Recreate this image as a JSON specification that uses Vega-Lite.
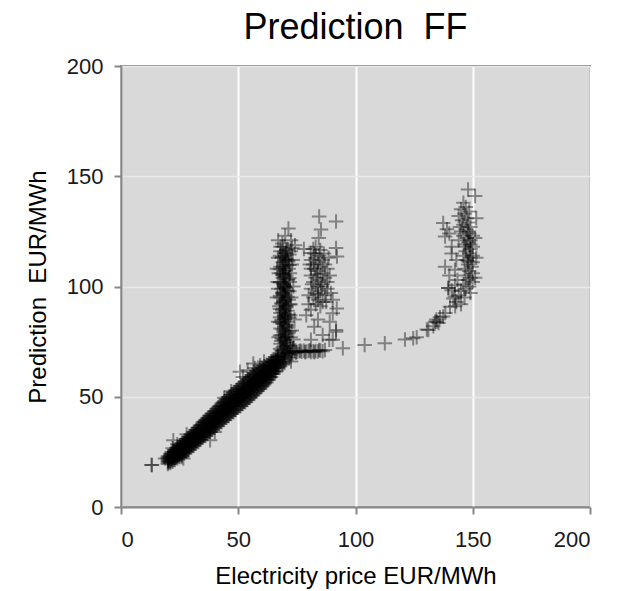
{
  "$schema": "https://vega.github.io/schema/vega-lite/v6.json",
  "width": 469,
  "height": 441,
  "autosize": {"type": "none"},
  "padding": {"left": 121, "top": 66, "right": 38, "bottom": 84},
  "background": "#ffffff",
  "title": {
    "text": "Prediction\u00a0 FF",
    "font": "Liberation Sans",
    "fontSize": 36,
    "fontWeight": "normal",
    "color": "#000000",
    "anchor": "middle",
    "frame": "group",
    "offset": 8
  },
  "config": {
    "view": {"fill": "#d9d9d9", "stroke": "#878787", "strokeWidth": 2},
    "axis": {
      "domainColor": "#878787",
      "domainWidth": 2,
      "tickColor": "#878787",
      "tickWidth": 2,
      "tickSize": 7,
      "labelFont": "Liberation Sans",
      "labelFontSize": 22,
      "labelColor": "#1a1a1a",
      "titleFont": "Liberation Sans",
      "titleFontSize": 24,
      "titleFontWeight": "normal",
      "titleColor": "#000000"
    },
    "axisX": {"gridColor": "#ffffff", "gridWidth": 2, "gridOpacity": 1},
    "axisY": {"gridColor": "#e9e9e9", "gridWidth": 1.5, "gridOpacity": 1}
  },
  "data": {
    "values": [
      {"price": 20, "pred": 19.5}, {"price": 20, "pred": 20.2}, {"price": 20, "pred": 20.9}, {"price": 20, "pred": 21.6}, {"price": 20, "pred": 22.3}, {"price": 20, "pred": 23},
      {"price": 21, "pred": 20}, {"price": 21, "pred": 20.8}, {"price": 21, "pred": 21.6}, {"price": 21, "pred": 22.4}, {"price": 21, "pred": 23.2}, {"price": 21, "pred": 24},
      {"price": 22, "pred": 20.5}, {"price": 22, "pred": 21.4}, {"price": 22, "pred": 22.3}, {"price": 22, "pred": 23.2}, {"price": 22, "pred": 24.1}, {"price": 22, "pred": 25},
      {"price": 23, "pred": 21.3}, {"price": 23, "pred": 22.2}, {"price": 23, "pred": 23.2}, {"price": 23, "pred": 24.1}, {"price": 23, "pred": 25.1}, {"price": 23, "pred": 26},
      {"price": 24, "pred": 22}, {"price": 24, "pred": 23}, {"price": 24, "pred": 24}, {"price": 24, "pred": 25}, {"price": 24, "pred": 26}, {"price": 24, "pred": 27},
      {"price": 25, "pred": 22.7}, {"price": 25, "pred": 23.8}, {"price": 25, "pred": 24.8}, {"price": 25, "pred": 25.9}, {"price": 25, "pred": 26.9}, {"price": 25, "pred": 28},
      {"price": 26, "pred": 23.5}, {"price": 26, "pred": 24.6}, {"price": 26, "pred": 25.7}, {"price": 26, "pred": 26.8}, {"price": 26, "pred": 27.9}, {"price": 26, "pred": 29},
      {"price": 27, "pred": 24.3}, {"price": 27, "pred": 25.4}, {"price": 27, "pred": 26.6}, {"price": 27, "pred": 27.7}, {"price": 27, "pred": 28.9}, {"price": 27, "pred": 30},
      {"price": 28, "pred": 25}, {"price": 28, "pred": 26.2}, {"price": 28, "pred": 27.4}, {"price": 28, "pred": 28.6}, {"price": 28, "pred": 29.8}, {"price": 28, "pred": 31},
      {"price": 29, "pred": 26}, {"price": 29, "pred": 27.2}, {"price": 29, "pred": 28.4}, {"price": 29, "pred": 29.6}, {"price": 29, "pred": 30.8}, {"price": 29, "pred": 32},
      {"price": 30, "pred": 27}, {"price": 30, "pred": 28.2}, {"price": 30, "pred": 29.4}, {"price": 30, "pred": 30.6}, {"price": 30, "pred": 31.8}, {"price": 30, "pred": 33},
      {"price": 31, "pred": 27.8}, {"price": 31, "pred": 29}, {"price": 31, "pred": 30.3}, {"price": 31, "pred": 31.5}, {"price": 31, "pred": 32.8}, {"price": 31, "pred": 34},
      {"price": 32, "pred": 28.7}, {"price": 32, "pred": 30}, {"price": 32, "pred": 31.2}, {"price": 32, "pred": 32.5}, {"price": 32, "pred": 33.7}, {"price": 32, "pred": 35},
      {"price": 33, "pred": 29.5}, {"price": 33, "pred": 30.8}, {"price": 33, "pred": 32.1}, {"price": 33, "pred": 33.4}, {"price": 33, "pred": 34.7}, {"price": 33, "pred": 36},
      {"price": 34, "pred": 30.5}, {"price": 34, "pred": 31.8}, {"price": 34, "pred": 33.2}, {"price": 34, "pred": 34.5}, {"price": 34, "pred": 35.9}, {"price": 34, "pred": 37.2},
      {"price": 35, "pred": 31.5}, {"price": 35, "pred": 32.9}, {"price": 35, "pred": 34.3}, {"price": 35, "pred": 35.7}, {"price": 35, "pred": 37.1}, {"price": 35, "pred": 38.5},
      {"price": 36, "pred": 32.3}, {"price": 36, "pred": 33.7}, {"price": 36, "pred": 35.2}, {"price": 36, "pred": 36.6}, {"price": 36, "pred": 38.1}, {"price": 36, "pred": 39.5},
      {"price": 37, "pred": 33.2}, {"price": 37, "pred": 34.7}, {"price": 37, "pred": 36.1}, {"price": 37, "pred": 37.6}, {"price": 37, "pred": 39}, {"price": 37, "pred": 40.5},
      {"price": 38, "pred": 34}, {"price": 38, "pred": 35.5}, {"price": 38, "pred": 37}, {"price": 38, "pred": 38.5}, {"price": 38, "pred": 40}, {"price": 38, "pred": 41.5},
      {"price": 39, "pred": 35}, {"price": 39, "pred": 36.5}, {"price": 39, "pred": 38}, {"price": 39, "pred": 39.5}, {"price": 39, "pred": 41}, {"price": 39, "pred": 42.5},
      {"price": 40, "pred": 36}, {"price": 40, "pred": 37.5}, {"price": 40, "pred": 39}, {"price": 40, "pred": 40.5}, {"price": 40, "pred": 42}, {"price": 40, "pred": 43.5},
      {"price": 41, "pred": 36.8}, {"price": 41, "pred": 38.4}, {"price": 41, "pred": 40}, {"price": 41, "pred": 41.5}, {"price": 41, "pred": 43.1}, {"price": 41, "pred": 44.7},
      {"price": 42, "pred": 37.7}, {"price": 42, "pred": 39.3}, {"price": 42, "pred": 40.9}, {"price": 42, "pred": 42.6}, {"price": 42, "pred": 44.2}, {"price": 42, "pred": 45.8},
      {"price": 43, "pred": 38.5}, {"price": 43, "pred": 40.2}, {"price": 43, "pred": 41.9}, {"price": 43, "pred": 43.6}, {"price": 43, "pred": 45.3}, {"price": 43, "pred": 47},
      {"price": 44, "pred": 39.5}, {"price": 44, "pred": 41.2}, {"price": 44, "pred": 42.8}, {"price": 44, "pred": 44.5}, {"price": 44, "pred": 46.2}, {"price": 44, "pred": 48},
      {"price": 45, "pred": 40.5}, {"price": 45, "pred": 42.2}, {"price": 45, "pred": 43.9}, {"price": 45, "pred": 45.6}, {"price": 45, "pred": 47.3}, {"price": 45, "pred": 49},
      {"price": 46, "pred": 41.3}, {"price": 46, "pred": 43}, {"price": 46, "pred": 44.8}, {"price": 46, "pred": 46.5}, {"price": 46, "pred": 48.3}, {"price": 46, "pred": 50},
      {"price": 47, "pred": 42.2}, {"price": 47, "pred": 44}, {"price": 47, "pred": 45.7}, {"price": 47, "pred": 47.5}, {"price": 47, "pred": 49.2}, {"price": 47, "pred": 51},
      {"price": 48, "pred": 43}, {"price": 48, "pred": 44.8}, {"price": 48, "pred": 46.6}, {"price": 48, "pred": 48.4}, {"price": 48, "pred": 50.2}, {"price": 48, "pred": 52},
      {"price": 49, "pred": 44}, {"price": 49, "pred": 45.8}, {"price": 49, "pred": 47.6}, {"price": 49, "pred": 49.4}, {"price": 49, "pred": 51.2}, {"price": 49, "pred": 53},
      {"price": 50, "pred": 45}, {"price": 50, "pred": 46.8}, {"price": 50, "pred": 48.6}, {"price": 50, "pred": 50.4}, {"price": 50, "pred": 52.2}, {"price": 50, "pred": 54},
      {"price": 51, "pred": 45.8}, {"price": 51, "pred": 47.6}, {"price": 51, "pred": 49.5}, {"price": 51, "pred": 51.3}, {"price": 51, "pred": 53.2}, {"price": 51, "pred": 55},
      {"price": 52, "pred": 46.7}, {"price": 52, "pred": 48.6}, {"price": 52, "pred": 50.4}, {"price": 52, "pred": 52.3}, {"price": 52, "pred": 54.1}, {"price": 52, "pred": 56},
      {"price": 53, "pred": 47.5}, {"price": 53, "pred": 49.4}, {"price": 53, "pred": 51.3}, {"price": 53, "pred": 53.2}, {"price": 53, "pred": 55.1}, {"price": 53, "pred": 57},
      {"price": 54, "pred": 48.5}, {"price": 54, "pred": 50.4}, {"price": 54, "pred": 52.3}, {"price": 54, "pred": 54.2}, {"price": 54, "pred": 56.1}, {"price": 54, "pred": 58},
      {"price": 55, "pred": 49.5}, {"price": 55, "pred": 51.4}, {"price": 55, "pred": 53.3}, {"price": 55, "pred": 55.2}, {"price": 55, "pred": 57.1}, {"price": 55, "pred": 59},
      {"price": 56, "pred": 50.5}, {"price": 56, "pred": 52.4}, {"price": 56, "pred": 54.2}, {"price": 56, "pred": 56.1}, {"price": 56, "pred": 57.9}, {"price": 56, "pred": 59.8},
      {"price": 57, "pred": 51.5}, {"price": 57, "pred": 53.3}, {"price": 57, "pred": 55.2}, {"price": 57, "pred": 57}, {"price": 57, "pred": 58.9}, {"price": 57, "pred": 60.7},
      {"price": 58, "pred": 52.5}, {"price": 58, "pred": 54.3}, {"price": 58, "pred": 56.1}, {"price": 58, "pred": 57.9}, {"price": 58, "pred": 59.7}, {"price": 58, "pred": 61.5},
      {"price": 59, "pred": 53.5}, {"price": 59, "pred": 55.2}, {"price": 59, "pred": 57}, {"price": 59, "pred": 58.7}, {"price": 59, "pred": 60.5}, {"price": 59, "pred": 62.2},
      {"price": 60, "pred": 54.5}, {"price": 60, "pred": 56.2}, {"price": 60, "pred": 57.9}, {"price": 60, "pred": 59.6}, {"price": 60, "pred": 61.3}, {"price": 60, "pred": 63},
      {"price": 61, "pred": 55.5}, {"price": 61, "pred": 57.2}, {"price": 61, "pred": 58.8}, {"price": 61, "pred": 60.5}, {"price": 61, "pred": 62.1}, {"price": 61, "pred": 63.8},
      {"price": 62, "pred": 56.5}, {"price": 62, "pred": 58.1}, {"price": 62, "pred": 59.7}, {"price": 62, "pred": 61.3}, {"price": 62, "pred": 62.9}, {"price": 62, "pred": 64.5},
      {"price": 63, "pred": 57.7}, {"price": 63, "pred": 59.2}, {"price": 63, "pred": 60.7}, {"price": 63, "pred": 62.2}, {"price": 63, "pred": 63.7}, {"price": 63, "pred": 65.2},
      {"price": 64, "pred": 59}, {"price": 64, "pred": 60.4}, {"price": 64, "pred": 61.8}, {"price": 64, "pred": 63.2}, {"price": 64, "pred": 64.6}, {"price": 64, "pred": 66},
      {"price": 65, "pred": 60.3}, {"price": 65, "pred": 61.6}, {"price": 65, "pred": 63}, {"price": 65, "pred": 64.3}, {"price": 65, "pred": 65.7}, {"price": 65, "pred": 67},
      {"price": 66, "pred": 61.5}, {"price": 66, "pred": 62.8}, {"price": 66, "pred": 64.1}, {"price": 66, "pred": 65.4}, {"price": 66, "pred": 66.7}, {"price": 66, "pred": 68},
      {"price": 67, "pred": 63.5}, {"price": 67, "pred": 64.6}, {"price": 67, "pred": 65.7}, {"price": 67, "pred": 66.8}, {"price": 67, "pred": 67.9}, {"price": 67, "pred": 69},

      {"price": 20.5, "pred": 20.4}, {"price": 20.5, "pred": 21.2}, {"price": 20.5, "pred": 22.1}, {"price": 20.5, "pred": 22.9},
      {"price": 21.5, "pred": 20.9}, {"price": 21.5, "pred": 21.9}, {"price": 21.5, "pred": 22.9}, {"price": 21.5, "pred": 23.9},
      {"price": 22.5, "pred": 21.5}, {"price": 22.5, "pred": 22.6}, {"price": 22.5, "pred": 23.8}, {"price": 22.5, "pred": 24.9},
      {"price": 23.5, "pred": 22.3}, {"price": 23.5, "pred": 23.5}, {"price": 23.5, "pred": 24.7}, {"price": 23.5, "pred": 25.9},
      {"price": 24.5, "pred": 23}, {"price": 24.5, "pred": 24.3}, {"price": 24.5, "pred": 25.6}, {"price": 24.5, "pred": 26.9},
      {"price": 25.5, "pred": 23.7}, {"price": 25.5, "pred": 25.1}, {"price": 25.5, "pred": 26.5}, {"price": 25.5, "pred": 27.9},
      {"price": 26.5, "pred": 24.5}, {"price": 26.5, "pred": 26}, {"price": 26.5, "pred": 27.4}, {"price": 26.5, "pred": 28.9},
      {"price": 27.5, "pred": 25.3}, {"price": 27.5, "pred": 26.8}, {"price": 27.5, "pred": 28.4}, {"price": 27.5, "pred": 29.9},
      {"price": 28.5, "pred": 26.1}, {"price": 28.5, "pred": 27.7}, {"price": 28.5, "pred": 29.3}, {"price": 28.5, "pred": 30.9},
      {"price": 29.5, "pred": 27.1}, {"price": 29.5, "pred": 28.7}, {"price": 29.5, "pred": 30.3}, {"price": 29.5, "pred": 31.9},
      {"price": 30.5, "pred": 28}, {"price": 30.5, "pred": 29.6}, {"price": 30.5, "pred": 31.3}, {"price": 30.5, "pred": 32.9},
      {"price": 31.5, "pred": 28.9}, {"price": 31.5, "pred": 30.6}, {"price": 31.5, "pred": 32.2}, {"price": 31.5, "pred": 33.9},
      {"price": 32.5, "pred": 29.7}, {"price": 32.5, "pred": 31.4}, {"price": 32.5, "pred": 33.2}, {"price": 32.5, "pred": 34.9},
      {"price": 33.5, "pred": 30.6}, {"price": 33.5, "pred": 32.4}, {"price": 33.5, "pred": 34.2}, {"price": 33.5, "pred": 36},
      {"price": 34.5, "pred": 31.6}, {"price": 34.5, "pred": 33.5}, {"price": 34.5, "pred": 35.4}, {"price": 34.5, "pred": 37.3},
      {"price": 35.5, "pred": 32.5}, {"price": 35.5, "pred": 34.5}, {"price": 35.5, "pred": 36.4}, {"price": 35.5, "pred": 38.4},
      {"price": 36.5, "pred": 33.4}, {"price": 36.5, "pred": 35.4}, {"price": 36.5, "pred": 37.4}, {"price": 36.5, "pred": 39.4},
      {"price": 37.5, "pred": 34.2}, {"price": 37.5, "pred": 36.3}, {"price": 37.5, "pred": 38.3}, {"price": 37.5, "pred": 40.4},
      {"price": 38.5, "pred": 35.1}, {"price": 38.5, "pred": 37.2}, {"price": 38.5, "pred": 39.3}, {"price": 38.5, "pred": 41.4},
      {"price": 39.5, "pred": 36.1}, {"price": 39.5, "pred": 38.2}, {"price": 39.5, "pred": 40.3}, {"price": 39.5, "pred": 42.4},
      {"price": 40.5, "pred": 37}, {"price": 40.5, "pred": 39.2}, {"price": 40.5, "pred": 41.3}, {"price": 40.5, "pred": 43.5},
      {"price": 41.5, "pred": 37.9}, {"price": 41.5, "pred": 40.2}, {"price": 41.5, "pred": 42.4}, {"price": 41.5, "pred": 44.7},
      {"price": 42.5, "pred": 38.7}, {"price": 42.5, "pred": 41.1}, {"price": 42.5, "pred": 43.4}, {"price": 42.5, "pred": 45.8},
      {"price": 43.5, "pred": 39.6}, {"price": 43.5, "pred": 42}, {"price": 43.5, "pred": 44.5}, {"price": 43.5, "pred": 46.9},
      {"price": 44.5, "pred": 40.6}, {"price": 44.5, "pred": 43}, {"price": 44.5, "pred": 45.5}, {"price": 44.5, "pred": 47.9},
      {"price": 45.5, "pred": 41.5}, {"price": 45.5, "pred": 44}, {"price": 45.5, "pred": 46.4}, {"price": 45.5, "pred": 48.9},
      {"price": 46.5, "pred": 42.4}, {"price": 46.5, "pred": 44.9}, {"price": 46.5, "pred": 47.4}, {"price": 46.5, "pred": 49.9},
      {"price": 47.5, "pred": 43.2}, {"price": 47.5, "pred": 45.8}, {"price": 47.5, "pred": 48.3}, {"price": 47.5, "pred": 50.9},
      {"price": 48.5, "pred": 44.1}, {"price": 48.5, "pred": 46.7}, {"price": 48.5, "pred": 49.3}, {"price": 48.5, "pred": 51.9},
      {"price": 49.5, "pred": 45.1}, {"price": 49.5, "pred": 47.7}, {"price": 49.5, "pred": 50.3}, {"price": 49.5, "pred": 52.9},
      {"price": 50.5, "pred": 46}, {"price": 50.5, "pred": 48.6}, {"price": 50.5, "pred": 51.3}, {"price": 50.5, "pred": 53.9},
      {"price": 51.5, "pred": 46.9}, {"price": 51.5, "pred": 49.6}, {"price": 51.5, "pred": 52.2}, {"price": 51.5, "pred": 54.9},
      {"price": 52.5, "pred": 47.7}, {"price": 52.5, "pred": 50.4}, {"price": 52.5, "pred": 53.2}, {"price": 52.5, "pred": 55.9},
      {"price": 53.5, "pred": 48.6}, {"price": 53.5, "pred": 51.4}, {"price": 53.5, "pred": 54.1}, {"price": 53.5, "pred": 56.9},
      {"price": 54.5, "pred": 49.6}, {"price": 54.5, "pred": 52.4}, {"price": 54.5, "pred": 55.1}, {"price": 54.5, "pred": 57.9},
      {"price": 55.5, "pred": 50.6}, {"price": 55.5, "pred": 53.3}, {"price": 55.5, "pred": 56.1}, {"price": 55.5, "pred": 58.8},
      {"price": 56.5, "pred": 51.6}, {"price": 56.5, "pred": 54.3}, {"price": 56.5, "pred": 57}, {"price": 56.5, "pred": 59.7},
      {"price": 57.5, "pred": 52.6}, {"price": 57.5, "pred": 55.2}, {"price": 57.5, "pred": 57.9}, {"price": 57.5, "pred": 60.5},
      {"price": 58.5, "pred": 53.6}, {"price": 58.5, "pred": 56.2}, {"price": 58.5, "pred": 58.7}, {"price": 58.5, "pred": 61.3},
      {"price": 59.5, "pred": 54.6}, {"price": 59.5, "pred": 57.1}, {"price": 59.5, "pred": 59.5}, {"price": 59.5, "pred": 62},
      {"price": 60.5, "pred": 55.6}, {"price": 60.5, "pred": 58}, {"price": 60.5, "pred": 60.4}, {"price": 60.5, "pred": 62.8},
      {"price": 61.5, "pred": 56.6}, {"price": 61.5, "pred": 58.9}, {"price": 61.5, "pred": 61.3}, {"price": 61.5, "pred": 63.6},
      {"price": 62.5, "pred": 57.7}, {"price": 62.5, "pred": 59.9}, {"price": 62.5, "pred": 62.1}, {"price": 62.5, "pred": 64.3},
      {"price": 63.5, "pred": 59}, {"price": 63.5, "pred": 61}, {"price": 63.5, "pred": 63}, {"price": 63.5, "pred": 65},
      {"price": 64.5, "pred": 60.3}, {"price": 64.5, "pred": 62.2}, {"price": 64.5, "pred": 64}, {"price": 64.5, "pred": 65.9},
      {"price": 65.5, "pred": 61.5}, {"price": 65.5, "pred": 63.3}, {"price": 65.5, "pred": 65.1}, {"price": 65.5, "pred": 66.9},
      {"price": 66.5, "pred": 63.1}, {"price": 66.5, "pred": 64.7}, {"price": 66.5, "pred": 66.3}, {"price": 66.5, "pred": 67.9},

      {"price": 13, "pred": 19}, {"price": 13.2, "pred": 19.1}, {"price": 18.8, "pred": 22}, {"price": 22.3, "pred": 30.3},
      {"price": 22, "pred": 26.6}, {"price": 26.6, "pred": 22}, {"price": 38, "pred": 30.3}, {"price": 40, "pred": 34},
      {"price": 50.7, "pred": 61.3}, {"price": 56.4, "pred": 65.1}, {"price": 59.3, "pred": 64.3}, {"price": 54, "pred": 62},
      {"price": 52, "pred": 59}, {"price": 24, "pred": 28.5}, {"price": 28, "pred": 33}, {"price": 44, "pred": 49.5},
      {"price": 47, "pred": 52.5}, {"price": 61, "pred": 66}, {"price": 57, "pred": 63}, {"price": 25.9, "pred": 22.7},

      {"price": 67.5, "pred": 64}, {"price": 68.5, "pred": 65}, {"price": 69.5, "pred": 66}, {"price": 68, "pred": 67},
      {"price": 70, "pred": 68}, {"price": 69, "pred": 69}, {"price": 71, "pred": 70}, {"price": 68.5, "pred": 71},
      {"price": 70.5, "pred": 72}, {"price": 69.5, "pred": 73}, {"price": 68, "pred": 74}, {"price": 71, "pred": 75},
      {"price": 69, "pred": 76}, {"price": 70, "pred": 77}, {"price": 68.5, "pred": 78}, {"price": 71.5, "pred": 79},
      {"price": 69.5, "pred": 80}, {"price": 68, "pred": 81}, {"price": 70.5, "pred": 82}, {"price": 69, "pred": 83},
      {"price": 71, "pred": 84}, {"price": 68.5, "pred": 85}, {"price": 70, "pred": 86}, {"price": 69.5, "pred": 87},
      {"price": 68, "pred": 88}, {"price": 71, "pred": 89}, {"price": 69, "pred": 90}, {"price": 70.5, "pred": 91},
      {"price": 68.5, "pred": 92}, {"price": 69.5, "pred": 93}, {"price": 71.5, "pred": 94}, {"price": 68, "pred": 95},
      {"price": 70, "pred": 96}, {"price": 69, "pred": 97}, {"price": 71, "pred": 98}, {"price": 68.5, "pred": 99},
      {"price": 70, "pred": 100}, {"price": 69.5, "pred": 101}, {"price": 68, "pred": 102}, {"price": 71, "pred": 103},
      {"price": 69, "pred": 104}, {"price": 70.5, "pred": 105}, {"price": 68.5, "pred": 106}, {"price": 69.5, "pred": 107},
      {"price": 71.5, "pred": 108}, {"price": 68, "pred": 109}, {"price": 70, "pred": 110}, {"price": 69, "pred": 111},
      {"price": 71, "pred": 112}, {"price": 68.5, "pred": 113}, {"price": 70, "pred": 114}, {"price": 69.5, "pred": 115},
      {"price": 68, "pred": 116}, {"price": 71, "pred": 117}, {"price": 69, "pred": 118},
      {"price": 69, "pred": 64.5}, {"price": 70.5, "pred": 66.5}, {"price": 68.5, "pred": 68.5}, {"price": 70, "pred": 70.5},
      {"price": 69, "pred": 72.5}, {"price": 70.5, "pred": 74.5}, {"price": 68.5, "pred": 76.5}, {"price": 70, "pred": 78.5},
      {"price": 69, "pred": 80.5}, {"price": 70.5, "pred": 82.5}, {"price": 68.5, "pred": 84.5}, {"price": 70, "pred": 86.5},
      {"price": 69, "pred": 88.5}, {"price": 70.5, "pred": 90.5}, {"price": 68.5, "pred": 92.5}, {"price": 70, "pred": 94.5},
      {"price": 69, "pred": 96.5}, {"price": 70.5, "pred": 98.5}, {"price": 69.5, "pred": 100.5}, {"price": 70, "pred": 104.5},
      {"price": 69, "pred": 108.5}, {"price": 70.5, "pred": 112.5},
      {"price": 72.5, "pred": 66}, {"price": 67, "pred": 68}, {"price": 72, "pred": 73}, {"price": 67.2, "pred": 77},
      {"price": 72.8, "pred": 80}, {"price": 67, "pred": 84}, {"price": 72.2, "pred": 87}, {"price": 67.5, "pred": 91},
      {"price": 72.6, "pred": 95}, {"price": 67, "pred": 99}, {"price": 72, "pred": 102}, {"price": 67.3, "pred": 106},
      {"price": 72.8, "pred": 110}, {"price": 67, "pred": 113}, {"price": 72.4, "pred": 116}, {"price": 73, "pred": 70},
      {"price": 73.5, "pred": 76}, {"price": 74, "pred": 85}, {"price": 66.5, "pred": 95}, {"price": 73.5, "pred": 100},
      {"price": 66.5, "pred": 108},
      {"price": 69.8, "pred": 65.3}, {"price": 68.8, "pred": 67.3}, {"price": 71.5, "pred": 69.3}, {"price": 69.3, "pred": 71.3},
      {"price": 70.8, "pred": 73.3}, {"price": 68.3, "pred": 75.3}, {"price": 70.3, "pred": 77.3}, {"price": 69.3, "pred": 79.3},
      {"price": 71.3, "pred": 81.3}, {"price": 68.8, "pred": 83.3}, {"price": 69.8, "pred": 85.3}, {"price": 71.3, "pred": 87.3},
      {"price": 68.8, "pred": 89.3}, {"price": 70.3, "pred": 91.3}, {"price": 69.3, "pred": 93.3}, {"price": 71, "pred": 95.3},
      {"price": 68.8, "pred": 97.3}, {"price": 70.3, "pred": 99.3}, {"price": 69.3, "pred": 101.3}, {"price": 71.3, "pred": 103.3},
      {"price": 68.8, "pred": 105.3}, {"price": 70.3, "pred": 107.3}, {"price": 69.3, "pred": 109.3}, {"price": 71.3, "pred": 111.3},
      {"price": 68.8, "pred": 113.3}, {"price": 70.3, "pred": 115.3}, {"price": 72, "pred": 106}, {"price": 72.3, "pred": 92},
      {"price": 67.8, "pred": 86}, {"price": 72.3, "pred": 77},
      {"price": 67.8, "pred": 65.8}, {"price": 71.8, "pred": 67.8}, {"price": 69.8, "pred": 69.8}, {"price": 67.8, "pred": 71.8},
      {"price": 71.8, "pred": 73.8}, {"price": 69.8, "pred": 75.8}, {"price": 67.8, "pred": 77.8}, {"price": 71.8, "pred": 79.8},
      {"price": 69.8, "pred": 81.8}, {"price": 67.8, "pred": 83.8}, {"price": 71.8, "pred": 85.8}, {"price": 69.8, "pred": 87.8},
      {"price": 67.8, "pred": 89.8}, {"price": 71.8, "pred": 91.8}, {"price": 69.8, "pred": 93.8}, {"price": 67.8, "pred": 95.8},
      {"price": 71.8, "pred": 97.8}, {"price": 69.8, "pred": 99.8}, {"price": 67.8, "pred": 101.8}, {"price": 71.8, "pred": 103.8},
      {"price": 69.8, "pred": 105.8}, {"price": 67.8, "pred": 107.8}, {"price": 71.8, "pred": 109.8}, {"price": 69.8, "pred": 111.8},
      {"price": 67.8, "pred": 114}, {"price": 71.8, "pred": 114.5}, {"price": 70.5, "pred": 116.5}, {"price": 68.8, "pred": 119.5},
      {"price": 73.2, "pred": 112}, {"price": 66.8, "pred": 102},

      {"price": 71.4, "pred": 126.3}, {"price": 68, "pred": 118}, {"price": 74.2, "pred": 118.7}, {"price": 67, "pred": 121},
      {"price": 70, "pred": 123}, {"price": 73, "pred": 117.5}, {"price": 72.5, "pred": 121},

      {"price": 72, "pred": 70}, {"price": 73, "pred": 70.5}, {"price": 74, "pred": 70.8}, {"price": 75, "pred": 70.3},
      {"price": 76, "pred": 70.6}, {"price": 77, "pred": 70.4}, {"price": 78, "pred": 70.9}, {"price": 79, "pred": 70.5},
      {"price": 80, "pred": 70.7}, {"price": 81, "pred": 70.3}, {"price": 82, "pred": 70.6}, {"price": 83, "pred": 70.8},
      {"price": 84, "pred": 70.5}, {"price": 85, "pred": 71}, {"price": 86, "pred": 70.6}, {"price": 87, "pred": 71.2},
      {"price": 76.5, "pred": 71}, {"price": 78.5, "pred": 70.2}, {"price": 80.5, "pred": 71.1}, {"price": 82.5, "pred": 70.2},
      {"price": 84.5, "pred": 71.2}, {"price": 74.5, "pred": 70}, {"price": 72.5, "pred": 69}, {"price": 73.5, "pred": 72},

      {"price": 84.5, "pred": 131.8}, {"price": 91.7, "pred": 129.5}, {"price": 85.3, "pred": 125.8}, {"price": 84.3, "pred": 122},
      {"price": 91.7, "pred": 117.5}, {"price": 92.1, "pred": 113.6}, {"price": 80.9, "pred": 115.2}, {"price": 78, "pred": 117},
      {"price": 83, "pred": 118},
      {"price": 81, "pred": 112}, {"price": 82, "pred": 110}, {"price": 83, "pred": 113}, {"price": 84, "pred": 111},
      {"price": 85, "pred": 109}, {"price": 86, "pred": 112}, {"price": 87, "pred": 110}, {"price": 82.5, "pred": 108},
      {"price": 84, "pred": 107}, {"price": 86, "pred": 106}, {"price": 88, "pred": 108}, {"price": 81, "pred": 105},
      {"price": 83, "pred": 104}, {"price": 85, "pred": 103}, {"price": 87, "pred": 104}, {"price": 82, "pred": 102},
      {"price": 84, "pred": 100}, {"price": 86, "pred": 101}, {"price": 88, "pred": 99}, {"price": 81, "pred": 99},
      {"price": 83, "pred": 97}, {"price": 85, "pred": 98}, {"price": 87, "pred": 96}, {"price": 82, "pred": 95},
      {"price": 84, "pred": 94}, {"price": 86, "pred": 93}, {"price": 80, "pred": 96}, {"price": 83, "pred": 92},
      {"price": 85, "pred": 91}, {"price": 81, "pred": 108}, {"price": 84.5, "pred": 114}, {"price": 82.5, "pred": 115},
      {"price": 86.5, "pred": 115}, {"price": 83.5, "pred": 105.5}, {"price": 85.5, "pred": 100}, {"price": 81.5, "pred": 101},
      {"price": 84, "pred": 96.5}, {"price": 88, "pred": 102}, {"price": 89, "pred": 105}, {"price": 87.5, "pred": 93},
      {"price": 80.5, "pred": 110}, {"price": 82, "pred": 117}, {"price": 88.5, "pred": 113}, {"price": 85, "pred": 116.5},
      {"price": 90.3, "pred": 94}, {"price": 90.3, "pred": 87.9}, {"price": 81, "pred": 89.4}, {"price": 82.4, "pred": 81.8},
      {"price": 81, "pred": 75.8}, {"price": 91.7, "pred": 79.5}, {"price": 88.8, "pred": 75.8}, {"price": 86, "pred": 78},
      {"price": 84, "pred": 85}, {"price": 79, "pred": 87}, {"price": 89, "pred": 84}, {"price": 80, "pred": 92},
      {"price": 92, "pred": 90}, {"price": 89.5, "pred": 97},

      {"price": 94.6, "pred": 72}, {"price": 90.3, "pred": 75.8}, {"price": 91.7, "pred": 80.3}, {"price": 103.9, "pred": 73.5},
      {"price": 112.5, "pred": 74.3}, {"price": 121.1, "pred": 76}, {"price": 124.6, "pred": 76.5}, {"price": 126.1, "pred": 77},
      {"price": 130.4, "pred": 80.5}, {"price": 131.1, "pred": 80.3}, {"price": 133.9, "pred": 84}, {"price": 135.4, "pred": 83.5},
      {"price": 134.5, "pred": 85}, {"price": 136, "pred": 86}, {"price": 137.4, "pred": 86.4}, {"price": 138.3, "pred": 88},
      {"price": 140.3, "pred": 90.8}, {"price": 141.7, "pred": 94.6}, {"price": 141, "pred": 98.3}, {"price": 142.4, "pred": 100.6},
      {"price": 139.6, "pred": 99.3}, {"price": 142.4, "pred": 95.5}, {"price": 142.5, "pred": 91},

      {"price": 148, "pred": 144}, {"price": 151, "pred": 141}, {"price": 146, "pred": 138}, {"price": 147, "pred": 136},
      {"price": 145, "pred": 135}, {"price": 148.5, "pred": 134}, {"price": 146.5, "pred": 133}, {"price": 144, "pred": 132},
      {"price": 147.5, "pred": 131}, {"price": 145.5, "pred": 130}, {"price": 148, "pred": 129}, {"price": 146, "pred": 128},
      {"price": 149, "pred": 127}, {"price": 144.5, "pred": 127}, {"price": 147, "pred": 126}, {"price": 145, "pred": 125},
      {"price": 148.5, "pred": 124}, {"price": 150, "pred": 123}, {"price": 146, "pred": 123}, {"price": 147.5, "pred": 122},
      {"price": 149, "pred": 121}, {"price": 144, "pred": 121}, {"price": 148, "pred": 120}, {"price": 146.5, "pred": 119},
      {"price": 150, "pred": 118}, {"price": 149, "pred": 117}, {"price": 147, "pred": 116}, {"price": 148.5, "pred": 115},
      {"price": 150, "pred": 114}, {"price": 146, "pred": 114}, {"price": 149, "pred": 113}, {"price": 147.5, "pred": 112},
      {"price": 150, "pred": 111}, {"price": 148, "pred": 110}, {"price": 149.5, "pred": 109}, {"price": 146.5, "pred": 108},
      {"price": 148.5, "pred": 107}, {"price": 150, "pred": 106}, {"price": 147, "pred": 105}, {"price": 149, "pred": 104},
      {"price": 148, "pred": 103}, {"price": 150, "pred": 102}, {"price": 146, "pred": 101}, {"price": 148.5, "pred": 100},
      {"price": 147, "pred": 99}, {"price": 145, "pred": 98}, {"price": 149, "pred": 97}, {"price": 144, "pred": 96},
      {"price": 146.5, "pred": 95}, {"price": 143, "pred": 93}, {"price": 145, "pred": 92}, {"price": 148, "pred": 111.5},
      {"price": 149, "pred": 119}, {"price": 148, "pred": 125}, {"price": 147, "pred": 118},
      {"price": 137.4, "pred": 128.8}, {"price": 138.2, "pred": 122.7}, {"price": 140, "pred": 124}, {"price": 138.2, "pred": 109},
      {"price": 142.4, "pred": 107.6}, {"price": 139.6, "pred": 99.3}, {"price": 134.6, "pred": 84}, {"price": 133.2, "pred": 82},
      {"price": 139, "pred": 126}, {"price": 141, "pred": 115}, {"price": 143, "pred": 112}, {"price": 140, "pred": 105},
      {"price": 143.5, "pred": 103}, {"price": 141, "pred": 118},
      {"price": 151, "pred": 104}, {"price": 151.5, "pred": 113}, {"price": 151, "pred": 122}, {"price": 151.5, "pred": 131}
    ]
  },
  "mark": {
    "type": "point",
    "shape": "M-1,0H1M0,-1V1",
    "filled": false,
    "color": "#000000",
    "opacity": 0.4,
    "strokeWidth": 2,
    "size": 210
  },
  "encoding": {
    "x": {
      "field": "price",
      "type": "quantitative",
      "scale": {"domain": [0, 200], "nice": false},
      "axis": {
        "values": [0, 50, 100, 150, 200],
        "title": "Electricity price EUR/MWh",
        "labelPadding": 15,
        "titlePadding": 14
      }
    },
    "y": {
      "field": "pred",
      "type": "quantitative",
      "scale": {"domain": [0, 200], "nice": false},
      "axis": {
        "values": [0, 50, 100, 150, 200],
        "title": "Prediction\u00a0 EUR/MWh",
        "labelPadding": 11,
        "titlePadding": 16
      }
    }
  }
}
